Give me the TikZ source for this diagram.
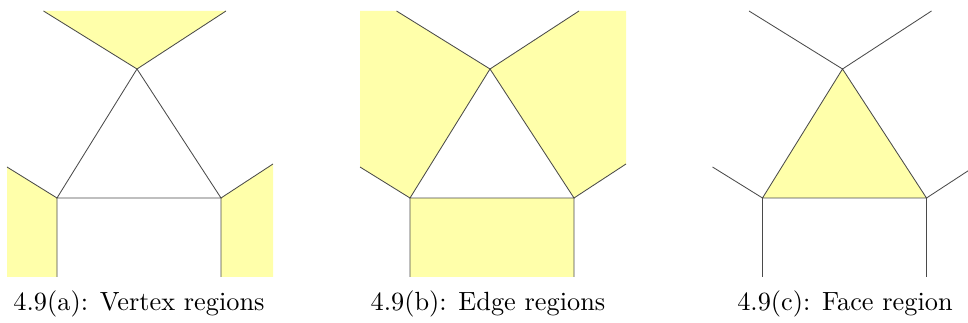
\documentclass[tikz,border=0pt]{standalone}
\usepackage{tikz}
\usepackage{xcolor}
\usetikzlibrary{positioning, calc}
\definecolor{regfill}{HTML}{FFFFAA}
\definecolor{edgeink}{HTML}{4a4a4a}

\begin{document}
\begin{tikzpicture}[x=0.38pt, y=-0.38pt, font=\normalsize,
  region/.style={fill=regfill, draw=none},
  wire/.style={draw=edgeink, line width=0.32pt},
  caption/.style={anchor=base, inner sep=0pt}
]
  \useasboundingbox (0,0) rectangle (968,323);

  % the same triangle in every panel, with its six rays
  \foreach \p/\dx in {a/7, b/360, c/712.5} {
    \coordinate (\p-apex) at (\dx+130,69);
    \coordinate (\p-bl) at (\dx+50,198);
    \coordinate (\p-br) at (\dx+214,198);
    \coordinate (\p-tl) at (\dx+36.5,11);
    \coordinate (\p-tr) at (\dx+219,11);
    \coordinate (\p-ml) at (\dx,167);
    \coordinate (\p-mr) at (\dx+266,164);
    \coordinate (\p-dl) at (\dx+50,277);
    \coordinate (\p-dr) at (\dx+214,277);
    \coordinate (\p-nw) at (\dx,11);
    \coordinate (\p-ne) at (\dx+266,11);
    \coordinate (\p-sw) at (\dx,277);
    \coordinate (\p-se) at (\dx+266,277);
  }

  % (a) vertex regions
  \fill[region] (a-apex) -- (a-tl) -- (a-tr) -- cycle;
  \fill[region] (a-bl) -- (a-ml) -- (a-sw) -- (a-dl) -- cycle;
  \fill[region] (a-br) -- (a-mr) -- (a-se) -- (a-dr) -- cycle;

  % (b) edge regions
  \fill[region] (b-bl) -- (b-apex) -- (b-tl) -- (b-nw) -- (b-ml) -- cycle;
  \fill[region] (b-apex) -- (b-br) -- (b-mr) -- (b-ne) -- (b-tr) -- cycle;
  \fill[region] (b-bl) -- (b-br) -- (b-dr) -- (b-dl) -- cycle;

  % (c) face region
  \fill[region] (c-apex) -- (c-bl) -- (c-br) -- cycle;

  \foreach \p in {a, b, c} {
    \draw[wire] (\p-apex) -- (\p-bl) -- (\p-br) -- cycle;
    \draw[wire] (\p-tl) -- (\p-apex) -- (\p-tr);
    \draw[wire] (\p-ml) -- (\p-bl) -- (\p-dl);
    \draw[wire] (\p-mr) -- (\p-br) -- (\p-dr);
  }

  \node[caption] (cap-a) at (139,311) {4.9(a): Vertex regions};
  \node[caption] (cap-b) at (488,311) {4.9(b): Edge regions};
  \node[caption] (cap-c) at (845,311) {4.9(c): Face region};
\end{tikzpicture}
\end{document}
